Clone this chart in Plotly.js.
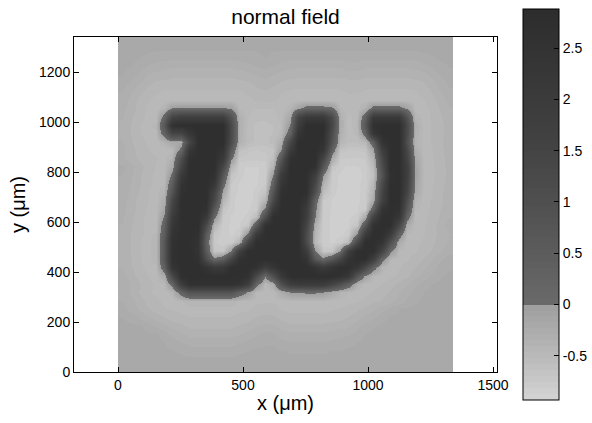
<!DOCTYPE html>
<html>
<head>
<meta charset="utf-8">
<script src="https://cdn.plot.ly/plotly-3.0.1.min.js"></script>
<style>
  html, body { margin: 0; padding: 0; background: #ffffff; }
  #chart { width: 592px; height: 423px; }
</style>
</head>
<body>
<div id="chart"></div>
<script>
// Sample positions of the field (cell centres, micrometres)
const gridX = [16.75, 50.25, 83.75, 117.25, 150.75, 184.25, 217.75, 251.25, 284.75, 318.25,
               351.75, 385.25, 418.75, 452.25, 485.75, 519.25, 552.75, 586.25, 619.75, 653.25,
               686.75, 720.25, 753.75, 787.25, 820.75, 854.25, 887.75, 921.25, 954.75, 988.25,
               1021.75, 1055.25, 1088.75, 1122.25, 1155.75, 1189.25, 1222.75, 1256.25, 1289.75, 1323.25];
const gridY = [16.75, 50.25, 83.75, 117.25, 150.75, 184.25, 217.75, 251.25, 284.75, 318.25,
               351.75, 385.25, 418.75, 452.25, 485.75, 519.25, 552.75, 586.25, 619.75, 653.25,
               686.75, 720.25, 753.75, 787.25, 820.75, 854.25, 887.75, 921.25, 954.75, 988.25,
               1021.75, 1055.25, 1088.75, 1122.25, 1155.75, 1189.25, 1222.75, 1256.25, 1289.75, 1323.25];

// Normal field: one row per gridY value (lowest row first), one column per gridX value
const normalField = [
  [-0.22,-0.22,-0.22,-0.22,-0.22,-0.22,-0.22,-0.22,-0.22,-0.22,-0.22,-0.22,-0.22,-0.22,-0.22,-0.22,-0.22,-0.22,-0.22,-0.22,-0.22,-0.22,-0.22,-0.22,-0.22,-0.22,-0.22,-0.22,-0.22,-0.22,-0.22,-0.22,-0.22,-0.22,-0.22,-0.22,-0.22,-0.22,-0.22,-0.22],
  [-0.22,-0.22,-0.22,-0.22,-0.22,-0.22,-0.22,-0.22,-0.22,-0.22,-0.22,-0.22,-0.22,-0.22,-0.22,-0.22,-0.22,-0.22,-0.22,-0.22,-0.22,-0.22,-0.22,-0.22,-0.22,-0.22,-0.22,-0.22,-0.22,-0.22,-0.22,-0.22,-0.22,-0.22,-0.22,-0.22,-0.22,-0.22,-0.22,-0.22],
  [-0.22,-0.22,-0.22,-0.22,-0.22,-0.22,-0.23,-0.24,-0.26,-0.26,-0.26,-0.26,-0.26,-0.26,-0.24,-0.23,-0.22,-0.22,-0.22,-0.23,-0.24,-0.24,-0.24,-0.24,-0.24,-0.23,-0.23,-0.22,-0.22,-0.22,-0.22,-0.22,-0.22,-0.22,-0.22,-0.22,-0.22,-0.22,-0.22,-0.22],
  [-0.22,-0.22,-0.22,-0.22,-0.22,-0.23,-0.26,-0.28,-0.31,-0.31,-0.31,-0.31,-0.31,-0.31,-0.29,-0.27,-0.25,-0.24,-0.24,-0.27,-0.28,-0.28,-0.28,-0.28,-0.28,-0.27,-0.26,-0.25,-0.23,-0.22,-0.22,-0.22,-0.22,-0.22,-0.22,-0.22,-0.22,-0.22,-0.22,-0.22],
  [-0.22,-0.22,-0.22,-0.22,-0.22,-0.26,-0.31,-0.34,-0.37,-0.37,-0.37,-0.37,-0.37,-0.37,-0.35,-0.33,-0.3,-0.27,-0.28,-0.32,-0.33,-0.33,-0.33,-0.33,-0.33,-0.32,-0.31,-0.3,-0.27,-0.23,-0.22,-0.22,-0.22,-0.22,-0.22,-0.22,-0.22,-0.22,-0.22,-0.22],
  [-0.22,-0.22,-0.22,-0.25,-0.3,-0.33,-0.37,-0.39,-0.42,-0.42,-0.42,-0.42,-0.42,-0.42,-0.4,-0.38,-0.35,-0.33,-0.33,-0.37,-0.39,-0.39,-0.39,-0.39,-0.39,-0.38,-0.37,-0.36,-0.31,-0.27,-0.24,-0.22,-0.22,-0.22,-0.22,-0.22,-0.22,-0.22,-0.22,-0.22],
  [-0.23,-0.25,-0.29,-0.33,-0.37,-0.4,-0.43,-0.44,-0.46,-0.46,-0.46,-0.46,-0.46,-0.46,-0.44,-0.43,-0.4,-0.38,-0.39,-0.42,-0.44,-0.44,-0.44,-0.44,-0.44,-0.43,-0.42,-0.4,-0.37,-0.33,-0.29,-0.25,-0.22,-0.22,-0.22,-0.22,-0.22,-0.22,-0.22,-0.22],
  [-0.27,-0.31,-0.35,-0.4,-0.43,-0.46,-0.47,-0.48,-0.49,-0.49,-0.49,-0.49,-0.49,-0.49,-0.48,-0.47,-0.44,-0.44,-0.44,-0.47,-0.48,-0.48,-0.48,-0.48,-0.48,-0.47,-0.46,-0.45,-0.42,-0.39,-0.36,-0.31,-0.27,-0.23,-0.22,-0.22,-0.22,-0.22,-0.22,-0.22],
  [-0.29,-0.33,-0.38,-0.42,-0.45,-0.48,-0.5,-0.48,-0.42,-0.42,-0.42,-0.42,-0.42,-0.42,-0.48,-0.5,-0.48,-0.47,-0.47,-0.49,-0.5,-0.5,-0.5,-0.5,-0.5,-0.5,-0.49,-0.48,-0.47,-0.45,-0.42,-0.4,-0.37,-0.33,-0.28,-0.24,-0.22,-0.22,-0.22,-0.22],
  [-0.3,-0.36,-0.41,-0.45,-0.48,-0.5,-0.43,0.3,0.85,0.85,0.85,0.85,0.85,0.85,0.38,-0.07,-0.48,-0.48,-0.5,-0.29,0.0,0.03,0.07,0.07,0.0,-0.22,-0.4,-0.47,-0.5,-0.49,-0.46,-0.43,-0.4,-0.35,-0.31,-0.27,-0.23,-0.22,-0.22,-0.22],
  [-0.29,-0.35,-0.4,-0.44,-0.48,-0.48,0.22,1.9,2.6,2.6,2.6,2.6,2.6,2.6,2.45,1.8,0.22,-0.5,-0.29,1.0,1.8,2.0,2.0,2.0,2.0,1.5,1.0,0.38,-0.37,-0.5,-0.49,-0.46,-0.43,-0.39,-0.35,-0.3,-0.26,-0.23,-0.22,-0.22],
  [-0.32,-0.38,-0.43,-0.46,-0.49,-0.29,1.25,2.75,2.75,2.75,2.75,2.75,2.75,2.75,2.75,2.6,1.25,0.07,1.0,2.1,2.75,2.75,2.75,2.75,2.75,2.75,2.6,2.25,0.7,-0.1,-0.46,-0.5,-0.48,-0.45,-0.42,-0.37,-0.32,-0.28,-0.24,-0.22],
  [-0.35,-0.4,-0.45,-0.48,-0.48,0.38,2.45,2.75,2.75,2.75,2.45,2.0,2.1,2.75,2.75,2.75,2.6,1.9,2.35,2.75,2.75,2.75,2.75,2.45,2.0,2.45,2.75,2.75,2.35,1.35,0.3,-0.43,-0.5,-0.47,-0.44,-0.41,-0.36,-0.32,-0.27,-0.24],
  [-0.36,-0.41,-0.46,-0.49,-0.43,0.7,2.6,2.75,2.75,2.6,1.1,0.12,0.5,1.5,2.6,2.75,2.75,2.75,2.75,2.75,2.75,2.75,2.45,0.7,0.12,0.7,1.5,2.45,2.75,2.75,1.8,0.17,-0.46,-0.49,-0.47,-0.44,-0.4,-0.35,-0.3,-0.26],
  [-0.36,-0.41,-0.46,-0.49,-0.43,0.7,2.6,2.75,2.75,2.45,0.6,-0.69,-0.7,0.0,1.8,2.75,2.75,2.75,2.75,2.75,2.75,2.75,2.0,0.0,-0.7,-0.7,0.0,1.8,2.75,2.75,2.75,1.5,0.12,-0.48,-0.49,-0.47,-0.44,-0.4,-0.36,-0.31],
  [-0.36,-0.41,-0.46,-0.49,-0.43,0.7,2.6,2.75,2.75,2.45,0.38,-0.74,-0.8,-0.8,-0.43,1.5,2.75,2.75,2.75,2.75,2.75,2.75,1.25,-0.5,-0.8,-0.82,-0.8,-0.56,1.25,2.75,2.75,2.45,1.0,-0.29,-0.5,-0.48,-0.45,-0.42,-0.38,-0.34],
  [-0.35,-0.41,-0.45,-0.48,-0.46,0.5,2.45,2.75,2.75,2.6,0.6,-0.69,-0.8,-0.82,-0.8,0.12,2.0,2.75,2.75,2.75,2.75,2.75,1.25,-0.43,-0.8,-0.82,-0.82,-0.8,0.03,2.0,2.75,2.75,2.0,0.3,-0.47,-0.49,-0.47,-0.43,-0.39,-0.35],
  [-0.35,-0.4,-0.45,-0.48,-0.48,0.3,2.25,2.75,2.75,2.75,1.25,-0.43,-0.8,-0.82,-0.82,-0.72,0.6,2.6,2.75,2.75,2.75,2.75,1.5,-0.3,-0.8,-0.82,-0.83,-0.82,-0.67,0.7,2.6,2.75,2.75,1.35,-0.29,-0.5,-0.47,-0.43,-0.38,-0.32],
  [-0.34,-0.39,-0.44,-0.48,-0.5,0.07,2.0,2.75,2.75,2.75,2.1,0.12,-0.78,-0.82,-0.83,-0.8,-0.56,1.1,2.75,2.75,2.75,2.75,1.9,0.0,-0.8,-0.82,-0.83,-0.82,-0.8,-0.25,1.65,2.75,2.75,2.25,0.22,-0.5,-0.48,-0.44,-0.4,-0.35],
  [-0.33,-0.38,-0.43,-0.47,-0.5,-0.16,1.65,2.75,2.75,2.75,2.6,0.7,-0.69,-0.8,-0.83,-0.82,-0.78,0.12,2.1,2.75,2.75,2.75,2.0,0.12,-0.79,-0.82,-0.83,-0.83,-0.82,-0.76,0.38,2.45,2.75,2.6,0.7,-0.46,-0.49,-0.45,-0.41,-0.36],
  [-0.32,-0.38,-0.43,-0.46,-0.5,-0.29,1.35,2.75,2.75,2.75,2.75,1.35,-0.43,-0.8,-0.83,-0.83,-0.8,-0.46,1.25,2.75,2.75,2.75,2.35,0.3,-0.76,-0.82,-0.83,-0.84,-0.82,-0.8,-0.25,1.65,2.75,2.75,1.1,-0.37,-0.5,-0.46,-0.42,-0.37],
  [-0.31,-0.36,-0.41,-0.46,-0.49,-0.42,0.85,2.6,2.75,2.75,2.75,1.65,-0.18,-0.8,-0.82,-0.83,-0.8,-0.66,0.85,2.6,2.75,2.75,2.75,1.0,-0.58,-0.8,-0.83,-0.84,-0.82,-0.8,-0.38,1.5,2.75,2.75,1.5,-0.2,-0.5,-0.47,-0.42,-0.38],
  [-0.3,-0.35,-0.4,-0.45,-0.48,-0.47,0.5,2.45,2.75,2.75,2.75,2.25,0.22,-0.77,-0.82,-0.83,-0.82,-0.76,0.38,2.35,2.75,2.75,2.75,1.35,-0.38,-0.8,-0.82,-0.84,-0.82,-0.8,-0.48,1.25,2.75,2.75,1.65,-0.15,-0.5,-0.47,-0.43,-0.38],
  [-0.29,-0.34,-0.4,-0.44,-0.48,-0.5,0.12,2.1,2.75,2.75,2.75,2.6,0.7,-0.68,-0.8,-0.83,-0.82,-0.8,0.03,2.0,2.75,2.75,2.75,1.8,0.0,-0.8,-0.82,-0.83,-0.83,-0.8,-0.62,0.85,2.6,2.75,1.8,-0.05,-0.5,-0.48,-0.44,-0.39],
  [-0.27,-0.33,-0.38,-0.43,-0.47,-0.5,-0.19,1.5,2.75,2.75,2.75,2.75,1.35,-0.43,-0.8,-0.82,-0.82,-0.8,-0.36,1.35,2.75,2.75,2.75,2.6,0.7,-0.7,-0.8,-0.83,-0.82,-0.8,-0.54,1.1,2.75,2.75,1.8,-0.08,-0.5,-0.47,-0.44,-0.38],
  [-0.34,-0.38,-0.42,-0.44,-0.46,-0.49,-0.38,1.0,2.6,2.75,2.75,2.75,2.1,0.12,-0.72,-0.73,-0.74,-0.73,-0.6,0.7,2.6,2.75,2.75,2.75,1.5,-0.25,-0.75,-0.76,-0.76,-0.75,-0.38,1.35,2.75,2.75,1.5,-0.18,-0.5,-0.47,-0.43,-0.38],
  [-0.33,-0.38,-0.43,-0.46,-0.48,-0.5,-0.5,0.17,2.25,2.75,2.75,2.75,2.45,0.6,-0.62,-0.68,-0.7,-0.68,-0.66,0.0,2.0,2.75,2.75,2.75,2.35,0.3,-0.66,-0.7,-0.7,-0.68,-0.15,1.8,2.75,2.75,1.35,-0.29,-0.5,-0.47,-0.43,-0.37],
  [-0.34,-0.4,-0.44,-0.47,-0.5,-0.4,-0.2,-0.2,1.35,2.75,2.75,2.75,2.75,1.1,-0.36,-0.55,-0.6,-0.6,-0.55,-0.3,1.35,2.75,2.75,2.75,2.6,0.85,-0.42,-0.57,-0.57,-0.5,0.38,2.45,2.75,2.75,1.0,-0.39,-0.5,-0.46,-0.42,-0.37],
  [-0.36,-0.41,-0.46,-0.49,-0.48,0.3,1.5,1.5,2.25,2.75,2.75,2.75,2.75,1.25,-0.33,-0.55,-0.6,-0.6,-0.58,-0.49,0.3,2.35,2.75,2.75,2.75,1.1,-0.35,-0.57,-0.5,0.3,2.35,2.75,2.75,2.75,1.2,-0.35,-0.5,-0.46,-0.43,-0.37],
  [-0.36,-0.41,-0.46,-0.49,-0.44,0.7,2.6,2.75,2.75,2.75,2.75,2.75,2.75,1.25,-0.33,-0.55,-0.6,-0.6,-0.58,-0.52,0.03,1.9,2.75,2.75,2.75,1.35,-0.29,-0.57,-0.44,0.7,2.6,2.75,2.75,2.75,1.25,-0.32,-0.5,-0.46,-0.43,-0.37],
  [-0.34,-0.4,-0.44,-0.48,-0.5,0.22,1.5,1.8,1.8,1.8,1.8,1.8,1.8,0.85,-0.35,-0.52,-0.56,-0.57,-0.55,-0.5,-0.2,1.5,2.1,2.1,2.1,1.25,-0.33,-0.55,-0.48,0.38,2.1,2.1,2.1,2.1,0.85,-0.42,-0.49,-0.46,-0.42,-0.36],
  [-0.33,-0.38,-0.43,-0.47,-0.5,-0.43,0.0,0.03,0.03,0.03,0.03,0.03,0.03,-0.05,-0.48,-0.5,-0.52,-0.52,-0.52,-0.5,-0.43,-0.1,0.17,0.17,0.17,0.07,-0.46,-0.5,-0.5,-0.37,0.17,0.17,0.17,0.17,-0.1,-0.5,-0.48,-0.45,-0.4,-0.35],
  [-0.31,-0.37,-0.42,-0.46,-0.48,-0.5,-0.5,-0.5,-0.5,-0.5,-0.5,-0.5,-0.5,-0.5,-0.5,-0.48,-0.46,-0.45,-0.46,-0.48,-0.5,-0.5,-0.5,-0.5,-0.5,-0.5,-0.5,-0.48,-0.48,-0.5,-0.5,-0.5,-0.5,-0.5,-0.5,-0.49,-0.47,-0.43,-0.38,-0.33],
  [-0.29,-0.34,-0.39,-0.43,-0.46,-0.47,-0.47,-0.47,-0.47,-0.47,-0.47,-0.47,-0.47,-0.47,-0.47,-0.45,-0.43,-0.41,-0.43,-0.46,-0.47,-0.48,-0.48,-0.48,-0.48,-0.48,-0.47,-0.46,-0.46,-0.47,-0.48,-0.48,-0.48,-0.48,-0.48,-0.47,-0.44,-0.4,-0.35,-0.3],
  [-0.26,-0.3,-0.35,-0.39,-0.42,-0.43,-0.44,-0.44,-0.44,-0.44,-0.44,-0.44,-0.44,-0.44,-0.43,-0.42,-0.39,-0.37,-0.39,-0.42,-0.44,-0.44,-0.44,-0.44,-0.44,-0.44,-0.44,-0.43,-0.43,-0.44,-0.44,-0.44,-0.44,-0.44,-0.44,-0.43,-0.41,-0.37,-0.32,-0.28],
  [-0.23,-0.27,-0.3,-0.35,-0.37,-0.38,-0.39,-0.39,-0.39,-0.39,-0.39,-0.39,-0.39,-0.39,-0.38,-0.37,-0.35,-0.33,-0.35,-0.37,-0.38,-0.39,-0.39,-0.39,-0.39,-0.39,-0.39,-0.38,-0.38,-0.39,-0.39,-0.39,-0.39,-0.39,-0.39,-0.38,-0.37,-0.33,-0.29,-0.25],
  [-0.22,-0.23,-0.26,-0.29,-0.32,-0.33,-0.34,-0.34,-0.34,-0.34,-0.34,-0.34,-0.34,-0.34,-0.33,-0.31,-0.29,-0.27,-0.29,-0.32,-0.33,-0.34,-0.34,-0.34,-0.34,-0.34,-0.34,-0.32,-0.32,-0.34,-0.34,-0.34,-0.34,-0.34,-0.34,-0.33,-0.31,-0.28,-0.25,-0.23],
  [-0.22,-0.22,-0.23,-0.25,-0.27,-0.27,-0.28,-0.28,-0.28,-0.28,-0.28,-0.28,-0.28,-0.28,-0.27,-0.26,-0.25,-0.23,-0.25,-0.27,-0.28,-0.28,-0.28,-0.28,-0.28,-0.28,-0.28,-0.27,-0.27,-0.28,-0.28,-0.28,-0.28,-0.28,-0.28,-0.28,-0.26,-0.24,-0.22,-0.22],
  [-0.22,-0.22,-0.22,-0.22,-0.23,-0.23,-0.23,-0.23,-0.23,-0.23,-0.23,-0.23,-0.23,-0.23,-0.23,-0.23,-0.23,-0.22,-0.23,-0.23,-0.23,-0.23,-0.23,-0.23,-0.23,-0.23,-0.23,-0.23,-0.23,-0.23,-0.23,-0.23,-0.23,-0.23,-0.23,-0.23,-0.22,-0.22,-0.22,-0.22],
  [-0.22,-0.22,-0.22,-0.22,-0.22,-0.22,-0.22,-0.22,-0.22,-0.22,-0.22,-0.22,-0.22,-0.22,-0.22,-0.22,-0.22,-0.22,-0.22,-0.22,-0.22,-0.22,-0.22,-0.22,-0.22,-0.22,-0.22,-0.22,-0.22,-0.22,-0.22,-0.22,-0.22,-0.22,-0.22,-0.22,-0.22,-0.22,-0.22,-0.22]
];

const xTicks = [0, 500, 1000, 1500];
const yTicks = [0, 200, 400, 600, 800, 1000, 1200];
const barTicks = [-0.5, 0, 0.5, 1, 1.5, 2, 2.5];
const barTickText = ['-0.5', '0', '0.5', '1', '1.5', '2', '2.5'];
const zLow = -0.93;
const zHigh = 2.88;

// Gray ramp: light grays below zero, dark grays above, with a jump at zero.
const negGray = [[-0.93, 212], [-0.5, 185], [0, 158]];
const posGray = [[0, 106], [0.5, 92], [1, 79], [1.5, 68], [2, 59], [2.5, 51], [2.88, 45]];

function grayAt(stops, z) {
  for (let k = 0; k < stops.length - 1; k++) {
    const a = stops[k], b = stops[k + 1];
    if (z <= b[0]) {
      const t = (z - a[0]) / (b[0] - a[0]);
      return a[1] + t * (b[1] - a[1]);
    }
  }
  return stops[stops.length - 1][1];
}

// Banded (64 level) colour scale
function bandedScale() {
  const span = zHigh - zLow;
  const frac = z => Math.min(1, Math.max(0, (z - zLow) / span));
  const scale = [];
  const nNeg = 16, nPos = 48;
  const addBand = (z0, z1, stops) => {
    const g = Math.round(grayAt(stops, (z0 + z1) / 2));
    const c = 'rgb(' + g + ',' + g + ',' + g + ')';
    scale.push([frac(z0), c], [frac(z1), c]);
  };
  for (let k = 0; k < nNeg; k++) {
    addBand(zLow + k * (0 - zLow) / nNeg, zLow + (k + 1) * (0 - zLow) / nNeg, negGray);
  }
  for (let k = 0; k < nPos; k++) {
    addBand(k * zHigh / nPos, (k + 1) * zHigh / nPos, posGray);
  }
  scale[0][0] = 0;
  scale[scale.length - 1][0] = 1;
  return scale;
}

const fontFamily = 'Liberation Sans, Arial, Helvetica, sans-serif';

const trace = {
  type: 'heatmap',
  x: gridX,
  y: gridY,
  z: normalField,
  zmin: zLow,
  zmax: zHigh,
  zsmooth: 'best',
  colorscale: bandedScale(),
  hoverinfo: 'skip',
  colorbar: {
    x: 1.0615,
    xanchor: 'left',
    xpad: 0,
    y: 0.5,
    yanchor: 'middle',
    ypad: 0,
    thickness: 36,
    thicknessmode: 'pixels',
    len: 391,
    lenmode: 'pixels',
    outlinewidth: 1,
    outlinecolor: '#000000',
    ticks: 'inside',
    ticklen: 5,
    tickcolor: '#000000',
    tickvals: barTicks,
    ticktext: barTickText,
    tickfont: { family: fontFamily, size: 14, color: '#000000' }
  }
};

const axisStyle = {
  ticks: 'inside',
  ticklen: 5,
  tickcolor: '#000000',
  showline: true,
  linecolor: '#000000',
  linewidth: 1,
  mirror: 'ticks',
  showgrid: false,
  zeroline: false,
  tickfont: { family: fontFamily, size: 14, color: '#000000' }
};

const layout = {
  width: 592,
  height: 423,
  margin: { l: 74, r: 95, t: 37, b: 51, autoexpand: false },
  paper_bgcolor: '#ffffff',
  plot_bgcolor: '#ffffff',
  font: { family: fontFamily, color: '#000000' },
  title: {
    text: 'normal field',
    font: { family: fontFamily, size: 21, color: '#000000' },
    x: 0.5,
    xref: 'paper',
    y: 0.978,
    yref: 'container',
    yanchor: 'top'
  },
  xaxis: Object.assign({}, axisStyle, {
    range: [-176, 1516],
    tickvals: xTicks,
    title: { text: 'x (μm)', font: { family: fontFamily, size: 20, color: '#000000' }, standoff: 4 }
  }),
  yaxis: Object.assign({}, axisStyle, {
    range: [0, 1340],
    tickvals: yTicks,
    title: { text: 'y (μm)', font: { family: fontFamily, size: 20, color: '#000000' }, standoff: 8 }
  })
};

Plotly.newPlot('chart', [trace], layout, { displayModeBar: false, staticPlot: true });
</script>
</body>
</html>
